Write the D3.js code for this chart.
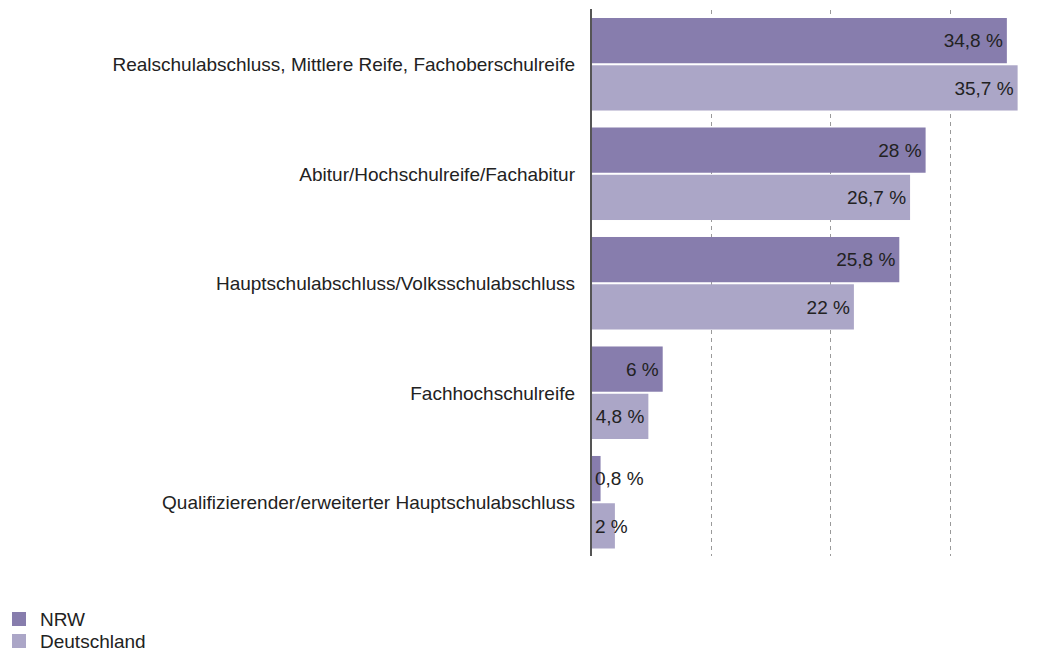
<!DOCTYPE html>
<html><head><meta charset="utf-8">
<script src="https://cdn.jsdelivr.net/npm/d3@7"></script>
<style>body{margin:0;background:#fff}svg{display:block;font-family:"Liberation Sans",Arial,sans-serif}</style>
</head><body><svg id="c" width="1061" height="652"></svg>
<script>
const categories = ["Realschulabschluss, Mittlere Reife, Fachoberschulreife","Abitur/Hochschulreife/Fachabitur","Hauptschulabschluss/Volksschulabschluss","Fachhochschulreife","Qualifizierender/erweiterter Hauptschulabschluss"];
const seriesNames = ["NRW","Deutschland"];
const nrw = [34.8, 28, 25.8, 6, 0.8];
const deutschland = [35.7, 26.7, 22, 4.8, 2];
const labelsNrw = ["34,8 %","28 %","25,8 %","6 %","0,8 %"];
const labelsDe = ["35,7 %","26,7 %","22 %","4,8 %","2 %"];
const gridTicks = [10, 20, 30];
const colors = ["#877dad", "#aba6c7"];
const FS = 19;

const svg = d3.select("#c");
const x = d3.scaleLinear().domain([0, 40]).range([591, 1069]);
const y = d3.scaleBand().domain(categories).range([18, 548.5]).paddingInner(0.155).paddingOuter(0).align(0);
const ys = d3.scaleBand().domain(seriesNames).range([0, y.bandwidth()]).paddingInner(0.043);

// grid
svg.selectAll("line.grid").data(gridTicks).join("line")
  .attr("x1", d => Math.round(x(d)) + 0.5).attr("x2", d => Math.round(x(d)) + 0.5)
  .attr("y1", 10).attr("y2", 556)
  .attr("stroke", "#9a9a9a").attr("stroke-width", 1).attr("stroke-dasharray", "4,4");

const data = [];
categories.forEach((c, i) => {
  data.push({c, s: "NRW", v: nrw[i], l: labelsNrw[i]});
  data.push({c, s: "Deutschland", v: deutschland[i], l: labelsDe[i]});
});

svg.selectAll("rect.bar").data(data).join("rect")
  .attr("x", x(0) + 1).attr("y", d => y(d.c) + ys(d.s))
  .attr("width", d => x(d.v) - x(0) - 1).attr("height", ys.bandwidth())
  .attr("fill", d => colors[seriesNames.indexOf(d.s)]);

// axis line
svg.append("line").attr("x1", 591).attr("x2", 591).attr("y1", 9).attr("y2", 556)
  .attr("stroke", "#555").attr("stroke-width", 2);

// value labels
const vl = svg.selectAll("text.val").data(data).join("text")
  .attr("y", d => y(d.c) + ys(d.s) + ys.bandwidth() / 2)
  .attr("dy", "0.36em").attr("font-size", FS).attr("fill", "#222")
  .attr("text-anchor", "end").text(d => d.l);
vl.each(function(d) {
  const w = this.getComputedTextLength();
  const xe = Math.max(x(d.v) - 4, x(0) + 4 + w);
  d3.select(this).attr("x", xe);
});

// category labels
svg.selectAll("text.cat").data(categories).join("text")
  .attr("x", 575).attr("y", d => y(d) + y.bandwidth() / 2)
  .attr("dy", "0.36em").attr("text-anchor", "end")
  .attr("font-size", FS).attr("fill", "#222").text(d => d);

// legend
const lg = svg.selectAll("g.lg").data(seriesNames).join("g")
  .attr("transform", (d, i) => `translate(12,${612 + i * 22})`);
lg.append("rect").attr("width", 14).attr("height", 14).attr("fill", (d, i) => colors[i]);
lg.append("text").attr("x", 28).attr("y", 7).attr("dy", "0.36em")
  .attr("font-size", FS).attr("fill", "#222").text(d => d);
</script></body></html>
